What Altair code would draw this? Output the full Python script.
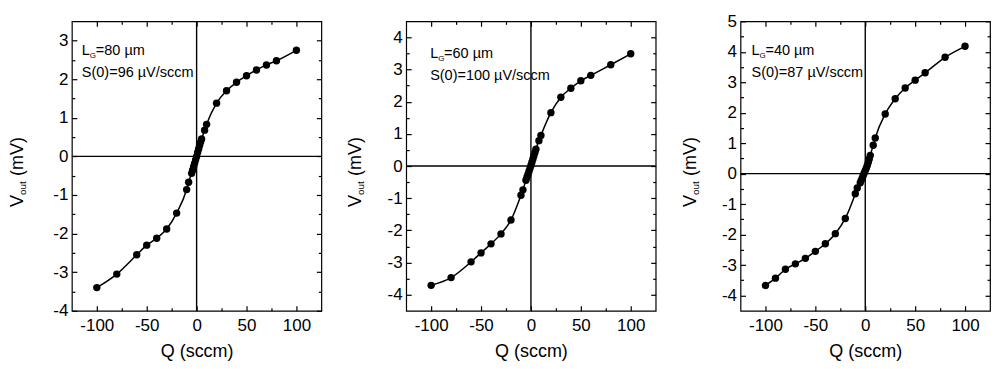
import altair as alt
import pandas as pd

FONT = "Liberation Sans"

# Panel 1 : L_G = 80 um
Q1 = [-100, -80, -60, -50, -40, -30, -20, -10, -8, -5, -4, -3, -2, -1, 0, 1, 2, 3, 4, 5,
      8, 10, 20, 30, 40, 50, 60, 70, 80, 100]
V1 = [-3.40, -3.05, -2.55, -2.30, -2.12, -1.88, -1.47, -0.86, -0.67, -0.44, -0.36, -0.27,
      -0.18, -0.09, 0.00, 0.10, 0.19, 0.28, 0.37, 0.45, 0.68, 0.83, 1.38, 1.70, 1.92, 2.09,
      2.24, 2.37, 2.48, 2.75]

# Panel 2 : L_G = 60 um
Q2 = [-100, -80, -60, -50, -40, -30, -20, -10, -8, -5, -4, -3, -2, -1, 0, 1, 2, 3, 4, 5,
      8, 10, 20, 30, 40, 50, 60, 80, 100]
V2 = [-3.71, -3.47, -2.98, -2.70, -2.42, -2.11, -1.68, -0.91, -0.74, -0.44, -0.35, -0.26,
      -0.17, -0.08, 0.02, 0.12, 0.22, 0.32, 0.42, 0.52, 0.79, 0.95, 1.66, 2.14, 2.42, 2.65,
      2.82, 3.15, 3.49]

# Panel 3 : L_G = 40 um
Q3 = [-100, -90, -80, -70, -60, -50, -40, -30, -20, -10, -8, -5, -4, -3, -2, -1, 0, 1, 2,
      3, 4, 5, 8, 10, 20, 30, 40, 50, 60, 80, 100]
V3 = [-3.67, -3.43, -3.14, -2.96, -2.78, -2.55, -2.30, -1.97, -1.47, -0.66, -0.47, -0.30,
      -0.22, -0.14, -0.06, 0.02, 0.10, 0.18, 0.27, 0.37, 0.48, 0.60, 0.93, 1.17, 1.96, 2.46,
      2.81, 3.07, 3.31, 3.82, 4.18]

LG_VALUES = ["80", "60", "40"]
S0_VALUES = ["96", "100", "87"]
Y_DOMAINS = [[-4, 3.5], [-4.5, 4.5], [-4.5, 5]]
X_DOMAIN = [-125, 125]
X_MAJOR = [-100, -50, 0, 50, 100]
X_MINOR = [-75, -25, 25, 75]

W, H = 250, 290


def axis(orient, values, size, labels=False, title=None, pad=0):
    kw = dict(
        orient=orient, values=values, tickSize=alt.ExprRef(expr=str(-size)),
        tickColor="black", tickWidth=1.2, domain=False, grid=False,
        labels=labels, labelFlush=False, labelOverlap=False,
    )
    if labels:
        kw.update(labelExpr="'' + datum.value", labelFont=FONT, labelFontSize=17,
                  labelColor="black", labelPadding=pad)
    if title:
        kw.update(title=title, titleFont=FONT, titleFontSize=18, titleFontWeight="normal",
                  titleColor="black", titlePadding=9)
    else:
        kw.update(title=None)
    return alt.Axis(**kw)


def panel(Q, V, ydom, lg, s0, ann, tx):
    df = pd.DataFrame({"Q": Q, "V": V})
    xs = alt.Scale(domain=X_DOMAIN, nice=False, zero=False)
    ys = alt.Scale(domain=ydom, nice=False, zero=False)
    lo, hi = ydom
    y_major = [v for v in range(-5, 6) if lo <= v <= hi]
    y_minor = [v + 0.5 for v in range(-5, 6) if lo < v + 0.5 < hi]

    base = alt.Chart(df)
    line = base.mark_line(color="black", strokeWidth=1.5, interpolate="monotone").encode(
        x=alt.X("Q:Q", scale=xs, axis=axis("bottom", X_MINOR, 3)),
        y=alt.Y("V:Q", scale=ys, axis=axis("left", y_minor, 3)),
    )
    pts = base.mark_circle(color="black", size=55, opacity=1).encode(
        x=alt.X("Q:Q", scale=xs, axis=axis("bottom", X_MAJOR, 5, labels=True, title="Q (sccm)", pad=12)),
        y=alt.Y("V:Q", scale=ys, axis=axis("left", y_major, 5, labels=True, pad=9)),
    )
    mirror_major = base.mark_circle(size=0, opacity=0).encode(
        x=alt.X("Q:Q", scale=xs, axis=axis("top", X_MAJOR, 5)),
        y=alt.Y("V:Q", scale=ys, axis=axis("right", y_major, 5)),
    )
    mirror_minor = base.mark_circle(size=0, opacity=0).encode(
        x=alt.X("Q:Q", scale=xs, axis=axis("top", X_MINOR, 3)),
        y=alt.Y("V:Q", scale=ys, axis=axis("right", y_minor, 3)),
    )
    zero = pd.DataFrame({"z": [0]})
    vrule = alt.Chart(zero).mark_rule(color="black", strokeWidth=1.4).encode(
        x=alt.X("z:Q", scale=xs, axis=None))
    hrule = alt.Chart(zero).mark_rule(color="black", strokeWidth=1.4).encode(
        y=alt.Y("z:Q", scale=ys, axis=None))

    one = pd.DataFrame({"a": [0]})
    ax, ay = ann

    def txt(s, x, y, size, dx=0, dy=0, angle=0):
        return alt.Chart(one).mark_text(
            text=s, font=FONT, fontSize=size, color="black", align="left",
            baseline="alphabetic", dx=dx, dy=dy, angle=angle,
        ).encode(x=alt.value(x), y=alt.value(y))

    ann_layers = [
        txt("L", ax, ay, 14.5),
        txt("G", ax + 8, ay + 3, 8),
        txt("=" + lg + " \u00b5m", ax + 14, ay, 14.5),
        txt("S(0)=" + s0 + " \u00b5V/sccm", ax, ay + 22, 14.5),
    ]
    ty = 186
    title_layers = [
        txt("V", tx, ty, 18, angle=270),
        txt("out", tx, ty, 10, dx=12, dy=3, angle=270),
        txt("(mV)", tx, ty, 18, dx=31, angle=270),
    ]
    return alt.layer(vrule, hrule, line, pts, mirror_major, mirror_minor,
                     *ann_layers, *title_layers).resolve_axis(
        x="independent", y="independent").properties(width=W, height=H)


p1 = panel(Q1, V1, Y_DOMAINS[0], LG_VALUES[0], S0_VALUES[0], (10, 34), -49)
p2 = panel(Q2, V2, Y_DOMAINS[1], LG_VALUES[1], S0_VALUES[1], (24, 37), -45)
p3 = panel(Q3, V3, Y_DOMAINS[2], LG_VALUES[2], S0_VALUES[2], (11, 34), -45)

chart = alt.hconcat(p1, p2, p3, spacing=85, bounds="flush").properties(
    padding={"left": 0, "top": 3, "right": 0, "bottom": 0}
).configure(background="white").configure_view(stroke="black", strokeWidth=1.2)

chart.save("out.html", embed_options={"renderer": "svg", "actions": False})
